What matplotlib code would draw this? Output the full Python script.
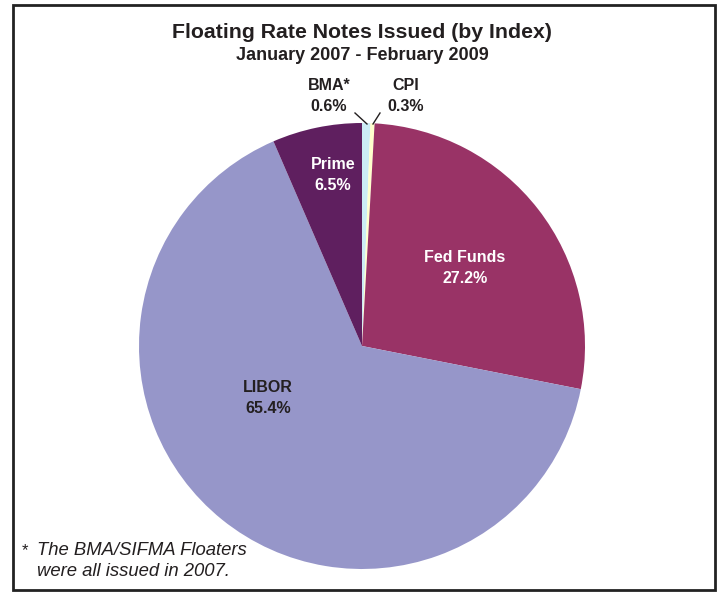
import numpy as np
import matplotlib.pyplot as plt
from matplotlib.patches import Rectangle

plt.rcParams['font.family'] = ['Liberation Sans', 'DejaVu Sans']

# data (clockwise from 12 o'clock)
labels = ['BMA*', 'CPI', 'Fed Funds', 'LIBOR', 'Prime']
shares = [0.6, 0.3, 27.2, 65.4, 6.5]
colors = ['#CCECF5', '#FFFFCC', '#993366', '#9696C9', '#5F1F5F']

W, H = 719, 592
fig = plt.figure(figsize=(W / 100, H / 100), dpi=100)
ax = fig.add_axes([0, 0, 1, 1])

cx, cy, r = 362, H - 346, 223
wedges, _ = ax.pie(shares, colors=colors, startangle=90, counterclock=False,
                   center=(cx, cy), radius=r, frame=True,
                   wedgeprops=dict(linewidth=0))
ax.set_xlim(0, W)
ax.set_ylim(0, H)
ax.set_aspect('equal')
ax.axis('off')

# outer frame
ax.add_patch(Rectangle((13, H - 590), 702, 585, fill=False,
                       edgecolor='#222222', linewidth=2))

ax.text(cx, H - 32, 'Floating Rate Notes Issued (by Index)', ha='center',
        va='center', fontsize=15.3, fontweight='bold', color='#231F20')
ax.text(cx, H - 55, 'January 2007 - February 2009', ha='center',
        va='center', fontsize=13, fontweight='bold', color='#231F20')

fmt = '{}\n{:.1f}%'
lab = dict(ha='center', va='center', fontsize=11.5, fontweight='bold',
           linespacing=1.45)
ax.text(465, H - 268, fmt.format(labels[2], shares[2]), color='white', **lab)
ax.text(268, H - 398, fmt.format(labels[3], shares[3]), color='#231F20', **lab)
ax.text(333, H - 175, fmt.format(labels[4], shares[4]), color='white', **lab)
ax.text(329, H - 96, fmt.format(labels[0], shares[0]), color='#231F20', **lab)
ax.text(406, H - 96, fmt.format(labels[1], shares[1]), color='#231F20', **lab)

# leader lines for the two slivers
ax.plot([355, 367], [H - 113, H - 124], color='#231F20', lw=1)
ax.plot([380, 373], [H - 113, H - 124], color='#231F20', lw=1)

ax.text(22, H - 551, '*', ha='left', va='center', fontsize=12,
        color='#231F20')
ax.text(37, H - 561, 'The BMA/SIFMA Floaters\nwere all issued in 2007.',
        ha='left', va='center', fontsize=13.3, style='italic',
        color='#231F20', linespacing=1.3)

fig.savefig('out.png', dpi=100)
